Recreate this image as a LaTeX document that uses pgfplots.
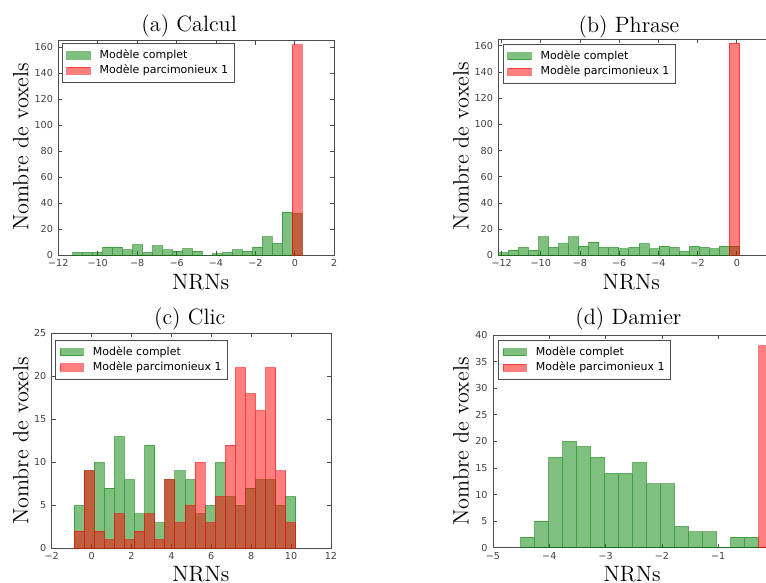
\documentclass[border=0pt]{standalone}
\usepackage{fontspec}
\usepackage{pgfplots}
\pgfplotsset{compat=1.18}
\newfontfamily\dejavu{DejaVu Sans}
\definecolor{mplgreen}{rgb}{0,0.5,0}
\definecolor{mplred}{rgb}{1,0,0}
\pgfplotsset{
  histax/.style={
    scale only axis, anchor=south west,
    axis line style={black!70, line width=0.5pt},
    every tick/.style={black!70, line width=0.4pt},
    tick align=inside, major tick length=2pt,
    ymin=0, clip=true,
    ticklabel style={font=\dejavu\fontsize{4.8}{5}\selectfont, text=black!75},
    xticklabel style={inner sep=0.5pt, yshift=-1.5pt},
    yticklabel style={inner sep=0.5pt, xshift=-2pt},
    every axis title/.style={font=\fontsize{11.1}{13}\selectfont, anchor=base},
    every axis x label/.style={font=\fontsize{11.1}{13}\selectfont, anchor=base},
    every axis y label/.style={font=\fontsize{11.1}{13}\selectfont, anchor=center, rotate=90},
    xlabel={NRNs}, ylabel={Nombre de voxels},
    legend cell align=left,
    legend style={font=\dejavu\fontsize{5.5}{6}\selectfont, anchor=north west,
      draw=black!70, line width=0.5pt, inner xsep=2pt, inner ysep=2pt, row sep=0pt,
      nodes={inner sep=1pt, text height=4.3pt, text depth=1.4pt}},
  },
  legimg/.style={legend image code/.code={\draw[##1] (0pt,-1.8pt) rectangle (11.7pt,1.8pt); \path (15.2pt,0pt);}},
  gbar/.style={ybar interval, fill=mplgreen, fill opacity=0.5, draw=mplgreen, draw opacity=0.5, line width=0.5pt, legimg},
  rbar/.style={ybar interval, fill=mplred, fill opacity=0.5, draw=mplred, draw opacity=0.5, line width=0.5pt, legimg},
}
\begin{document}
\begin{tikzpicture}
% (a) Calcul
\begin{axis}[histax, at={(29.15pt,-127.5pt)}, width=138pt, height=107.15pt,
  xmin=-12, xmax=2, ymax=165,
  xtick={-12,-10,...,2}, xticklabels={−12,−10,−8,−6,−4,−2,0,2},
  ytick={0,20,...,160}, yticklabels={0,20,40,60,80,100,120,140,160},
  title={(a) Calcul}, title style={at={(axis description cs:0.474,1)}, yshift=4.4pt},
  xlabel style={at={(axis description cs:0.516,0)}, yshift=-17.15pt},
  ylabel style={at={(axis description cs:-0.1359,0.505)}},
  legend style={at={(axis description cs:0.0123,0.988)}}]
\addplot[gbar] coordinates {
(-11.270,2) (-10.764,2) (-10.258,2) (-9.752,6) (-9.246,6) (-8.740,4) (-8.233,8) (-7.727,2)
(-7.221,7) (-6.715,4) (-6.209,3) (-5.703,5) (-5.197,3) (-4.691,0) (-4.185,1) (-3.679,2)
(-3.172,4) (-2.666,3) (-2.160,6) (-1.654,14) (-1.148,9) (-0.642,33) (-0.136,32) (0.370,0)};
\addlegendentry{Modèle complet}
\addplot[rbar] coordinates {(-0.136,162) (0.370,0)};
\addlegendentry{Modèle parcimonieux 1}
\end{axis}
% (b) Phrase
\begin{axis}[histax, at={(249.15pt,-127.65pt)}, width=138.85pt, height=108pt,
  xmin=-12.17, xmax=2, ymax=165,
  xtick={-12,-10,...,0}, xticklabels={−12,−10,−8,−6,−4,−2,0},
  ytick={0,20,...,160}, yticklabels={0,20,40,60,80,100,120,140,160},
  title={(b) Phrase}, title style={at={(axis description cs:0.4707,1)}, yshift=3.5pt},
  xlabel style={at={(axis description cs:0.479,0)}, yshift=-17pt},
  ylabel style={at={(axis description cs:-0.1343,0.505)}},
  legend style={at={(axis description cs:0.016,0.978)}}]
\addplot[gbar] coordinates {
(-12.170,2) (-11.657,4) (-11.144,6) (-10.631,4) (-10.118,14) (-9.606,6) (-9.093,9) (-8.580,14)
(-8.067,7) (-7.554,10) (-7.041,6) (-6.528,6) (-6.015,5) (-5.502,6) (-4.989,9) (-4.477,5)
(-3.964,7) (-3.451,6) (-2.938,3) (-2.425,7) (-1.912,6) (-1.399,5) (-0.886,7) (-0.373,7) (0.140,0)};
\addlegendentry{Modèle complet}
\addplot[rbar] coordinates {(-0.373,162) (0.140,0)};
\addlegendentry{Modèle parcimonieux 1}
\end{axis}
% (c) Clic
\begin{axis}[histax, at={(25.85pt,-274.15pt)}, width=139.65pt, height=107.5pt,
  xmin=-2, xmax=12, ymax=25,
  xtick={-2,0,...,12}, xticklabels={−2,0,2,4,6,8,10,12},
  ytick={0,5,...,25}, yticklabels={0,5,10,15,20,25},
  title={(c) Clic}, title style={at={(axis description cs:0.494,1)}, yshift=4.5pt},
  xlabel style={at={(axis description cs:0.534,0)}, yshift=-16.5pt},
  ylabel style={at={(axis description cs:-0.1106,0.5)}},
  legend style={at={(axis description cs:0.012,0.969)}}]
\addplot[gbar] coordinates {
(-0.880,5) (-0.374,9) (0.131,10) (0.637,7) (1.143,13) (1.649,8) (2.154,4) (2.660,12)
(3.166,3) (3.671,8) (4.177,9) (4.683,8) (5.188,4) (5.694,5) (6.200,10) (6.706,6)
(7.211,5) (7.717,7) (8.223,8) (8.728,8) (9.234,5) (9.740,6) (10.245,0)};
\addlegendentry{Modèle complet}
\addplot[rbar] coordinates {
(-0.880,2) (-0.374,9) (0.131,2) (0.637,1) (1.143,4) (1.649,1) (2.154,2) (2.660,4)
(3.166,1) (3.671,8) (4.177,3) (4.683,5) (5.188,10) (5.694,3) (6.200,6) (6.706,12)
(7.211,21) (7.717,18) (8.223,16) (8.728,21) (9.234,9) (9.740,3) (10.245,0)};
\addlegendentry{Modèle parcimonieux 1}
\end{axis}
% (d) Damier
\begin{axis}[histax, at={(246.5pt,-273.85pt)}, width=140.75pt, height=106.35pt,
  xmin=-5, xmax=0, ymax=40,
  xtick={-5,-4,...,-1}, xticklabels={−5,−4,−3,−2,−1},
  ytick={0,5,...,40}, yticklabels={0,5,10,15,20,25,30,35,40},
  title={(d) Damier}, title style={at={(axis description cs:0.481,1)}, yshift=5.35pt},
  xlabel style={at={(axis description cs:0.4945,0)}, yshift=-16.65pt},
  ylabel style={at={(axis description cs:-0.1137,0.5)}},
  legend style={at={(axis description cs:0.018,0.976)}}]
\addplot[gbar] coordinates {
(-4.509,2) (-4.260,5) (-4.012,17) (-3.763,20) (-3.514,19) (-3.266,17) (-3.017,14) (-2.768,14)
(-2.519,16) (-2.271,12) (-2.022,12) (-1.773,4) (-1.525,3) (-1.276,3) (-1.027,0) (-0.778,2)
(-0.530,2) (-0.281,0)};
\addlegendentry{Modèle complet}
\addplot[rbar] coordinates {(-0.281,38) (-0.032,0)};
\addlegendentry{Modèle parcimonieux 1}
\end{axis}
\pgfresetboundingbox
\useasboundingbox (0pt,0pt) rectangle (383pt,-291.5pt);
\end{tikzpicture}
\end{document}
